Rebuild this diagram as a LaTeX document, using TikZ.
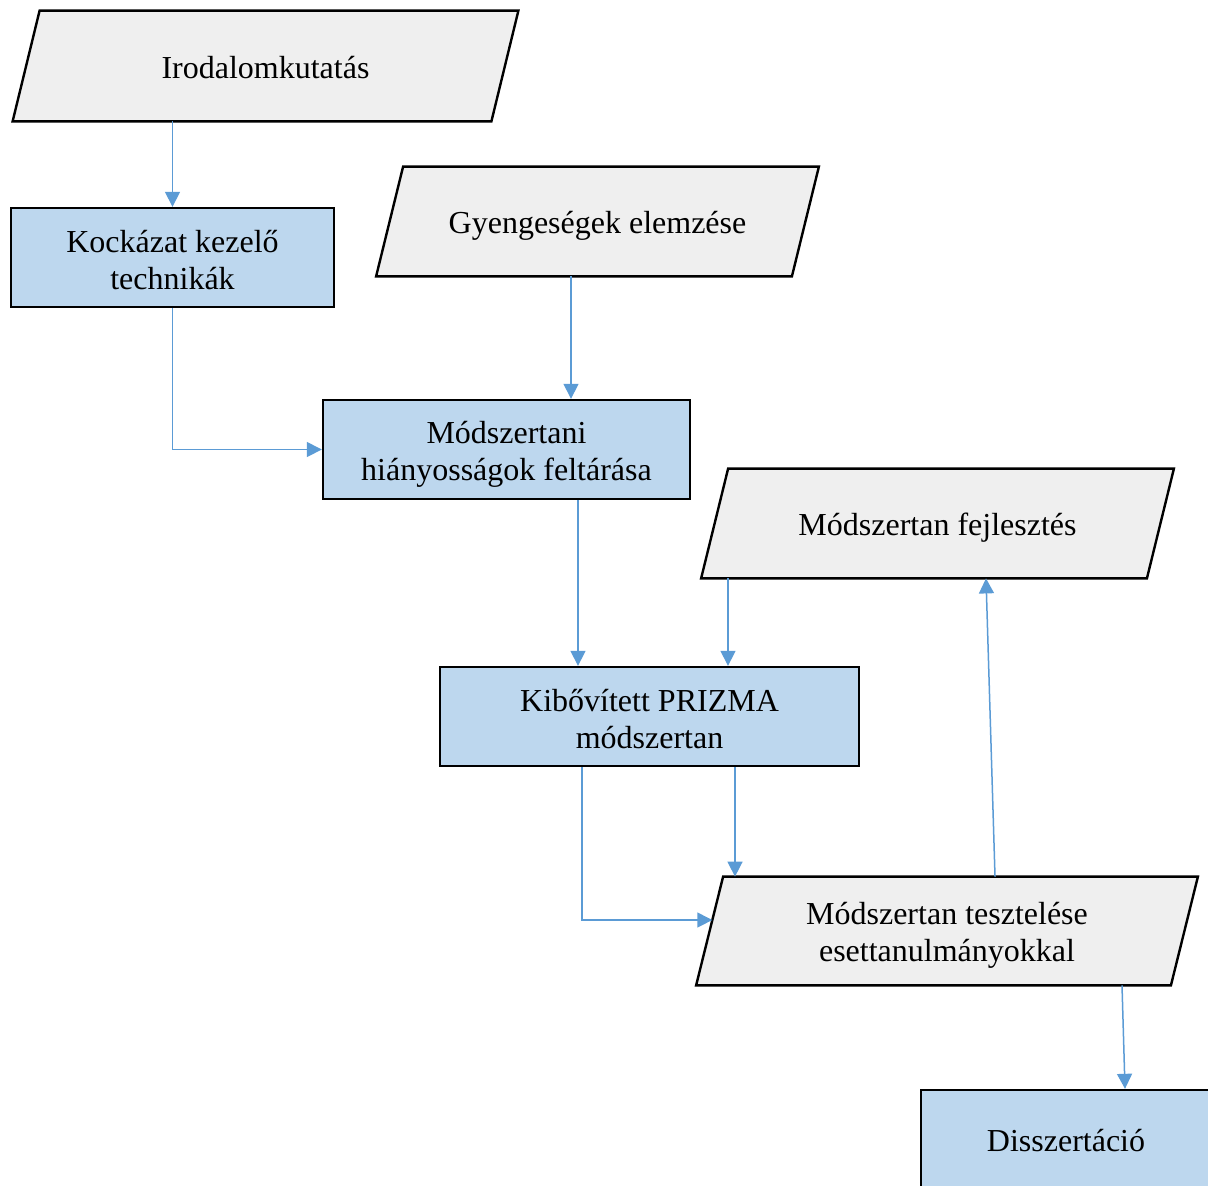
\documentclass[tikz,border=0pt]{standalone}
\usepackage{fontspec}
\setmainfont{Liberation Serif}
\usetikzlibrary{arrows.meta,calc,backgrounds}

\definecolor{boxblue}{RGB}{189,215,238}
\definecolor{boxgrey}{RGB}{239,239,239}
\definecolor{linkblue}{RGB}{91,155,213}

% invisible rule that sets the height of the first text line
\newcommand\capspace[1]{\rule{0pt}{#1}}

\tikzset{
  label text/.style={font=\fontsize{16pt}{18.5pt}\selectfont, align=center, text=black, inner sep=0pt},
  stepbox/.style={label text, rectangle, draw=black, line width=1.2pt, fill=boxblue},
  iobox/.style={label text, rectangle},
  iofill/.style={draw=black, line width=1.2pt, fill=boxgrey, line join=miter},
  link/.style={draw=linkblue, line width=0.75pt, -{Triangle[length=7.5pt,width=7.5pt]}, fill=none},
}

% slanted input/output outline around a named node (slant of 27 units over the height)
\newcommand\slantbox[1]{%
  \path[iofill] ($(#1.north west)+(13.5,0)$) -- ($(#1.north east)+(13.5,0)$)
    -- ($(#1.south east)+(-13.5,0)$) -- ($(#1.south west)+(-13.5,0)$) -- cycle;}

\begin{document}
\begin{tikzpicture}[x=0.5pt,y=-0.5pt]
  \path[use as bounding box, clip] (0,0) rectangle (1208,1185);

  % input / output steps
  \node[iobox, minimum width=239pt, minimum height=55pt] (irod) at (265.5,66) {\capspace{13pt}Irodalomkutatás};
  \node[iobox, minimum width=207.5pt, minimum height=54.5pt] (gyeng) at (597.5,221.5) {\capspace{15pt}Gyengeségek elemzése};
  \node[iobox, minimum width=222.5pt, minimum height=54.5pt] (fejl) at (937.5,523.5) {\capspace{15pt}Módszertan fejlesztés};
  \node[iobox, minimum width=237pt, minimum height=54pt] (tesz) at (947,931) {\capspace{15pt}Módszertan tesztelése\\esettanulmányokkal};

  \begin{scope}[on background layer]
    \slantbox{irod}
    \slantbox{gyeng}
    \slantbox{fejl}
    \slantbox{tesz}
  \end{scope}

  % process steps
  \node[stepbox, minimum width=161.5pt, minimum height=49.5pt] (kock) at (172.5,257.5) {\capspace{14pt}Kockázat kezelő\\technikák};
  \node[stepbox, minimum width=183.5pt, minimum height=49.5pt] (modsz) at (506.5,449.5) {\capspace{16pt}Módszertani\\hiányosságok feltárása};
  \node[stepbox, minimum width=209.5pt, minimum height=49.5pt] (kib) at (649.5,716.5) {\capspace{13.5pt}Kibővített PRIZMA\\módszertan};
  \node[stepbox, minimum width=145pt, minimum height=51pt] (diss) at (1066,1141) {Disszertáció};

  % connectors
  \draw[link] (irod.south -| kock.north) -- (kock.north);
  \coordinate (g1) at ($(gyeng.south)+(-26.5,0)$);
  \draw[link] (g1) -- (g1 |- modsz.north);
  \draw[link] (kock.south) |- (modsz.west);
  \coordinate (m1) at ($(modsz.south)+(71.5,0)$);
  \draw[link] (m1) -- (m1 |- kib.north);
  \coordinate (f1) at ($(fejl.south)+(-209.5,0)$);
  \draw[link] (f1) -- (f1 |- kib.north);
  \coordinate (k1) at ($(kib.south)+(85.5,0)$);
  \draw[link] (k1) -- (k1 |- tesz.north);
  \coordinate (k2) at ($(kib.south)+(-67.5,0)$);
  \draw[link] (k2) |- ($(tesz.west)+(2.7,-11)$);
  \draw[link] ($(tesz.north)+(48,0)$) -- ($(fejl.south)+(48.5,0)$);
  \draw[link] ($(tesz.south)+(175,0)$) -- ($(diss.north)+(59,0)$);
\end{tikzpicture}
\end{document}
